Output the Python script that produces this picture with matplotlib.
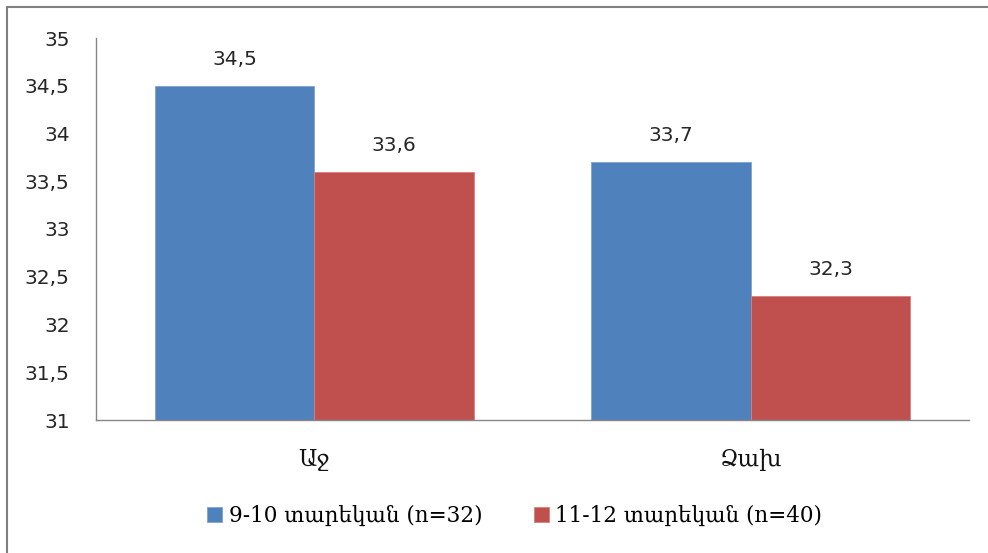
import matplotlib.pyplot as plt
from matplotlib.patches import Rectangle
import numpy as np

categories = ['Աջ', 'Ձախ']
series_names = ['9-10 տարեկան (n=32)', '11-12 տարեկան (n=40)']
young = [34.5, 33.7]
old = [33.6, 32.3]
yticks = [31, 31.5, 32, 32.5, 33, 33.5, 34, 34.5, 35]

blue = '#4F81BD'
red = '#C0504D'

fig = plt.figure(figsize=(9.88, 5.53), dpi=100)
ax = fig.add_axes([96/988, 1 - 420/553, 873/988, 382/553])

x = np.arange(len(categories))
w = 0.365
b1 = ax.bar(x - w/2, young, w, color=blue, edgecolor='#7FA3D1', linewidth=0.6, label=series_names[0])
b2 = ax.bar(x + w/2, old, w, color=red, edgecolor='#D87F7C', linewidth=0.6, label=series_names[1])

def fmt(v):
    return ('%g' % v).replace('.', ',')

for bars in (b1, b2):
    for rect in bars:
        v = rect.get_height()
        ax.annotate(fmt(v), (rect.get_x() + rect.get_width()/2, v),
                    xytext=(0, 19), textcoords='offset points',
                    ha='center', va='center', fontsize=14.5, color='#262626')

ax.set_ylim(31, 35)
ax.set_xlim(-0.5, 1.5)
ax.set_yticks(yticks)
ax.set_yticklabels([fmt(t) for t in yticks], fontsize=14.5, color='#262626')
ax.set_xticks(x)
ax.set_xticklabels(categories, fontsize=16.5, family='DejaVu Serif', color='#111111')
ax.tick_params(axis='y', length=0, pad=19)
ax.tick_params(axis='x', length=0, pad=21)

for s in ('top', 'right'):
    ax.spines[s].set_visible(False)
for s in ('left', 'bottom'):
    ax.spines[s].set_color('#868686')
    ax.spines[s].set_linewidth(1.0)

leg = fig.legend(handles=[b1, b2], loc='center', bbox_to_anchor=(0.521, 1 - 516/553),
                 ncol=2, frameon=False, handlelength=0.7, handleheight=0.7,
                 handletextpad=0.3, columnspacing=2.4,
                 prop={'family': 'DejaVu Serif', 'size': 15.5})

# outer chart border (cropped on right and bottom)
fig.patches.append(Rectangle((7/988, -0.05), 1.2, 1 - 7/553 + 0.05, transform=fig.transFigure,
                             fill=False, edgecolor='#808080', linewidth=1.5))

fig.savefig('out.png', dpi=100)
